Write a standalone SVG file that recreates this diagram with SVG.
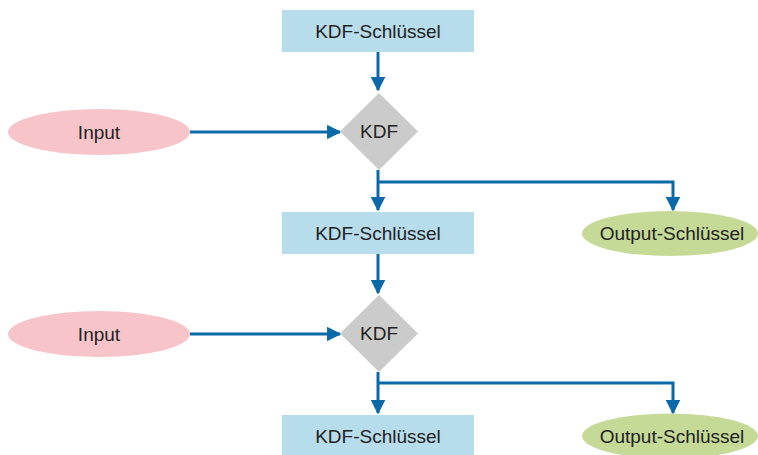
<svg xmlns="http://www.w3.org/2000/svg" width="758" height="455" viewBox="0 0 758 455">
<defs>
<style>
.key{fill:#b7dcec}
.inp{fill:#f7c5c9}
.out{fill:#c5da96}
.kdf{fill:#cbcbcb}
.t{font-family:"Liberation Sans",Arial,sans-serif;font-size:19px;fill:#222;text-anchor:middle;dominant-baseline:central}
.c{fill:none;stroke:#0a69a8;stroke-width:3;marker-end:url(#ah)}
</style>
<marker id="ah" viewBox="0 0 10 10" refX="9" refY="5" markerWidth="4.8" markerHeight="4.8" orient="auto" markerUnits="strokeWidth">
<path d="M0,0 L10,5 L0,10 z" fill="#0a69a8"/>
</marker>
</defs>
<rect width="758" height="455" fill="#fff"/>
<g id="connectors">
<path class="c" d="M378,52 V90"/>
<path class="c" d="M190,132 H340"/>
<path class="c" d="M378,170 V210"/>
<path class="c" d="M378,182 H673 V210"/>
<path class="c" d="M378,254 V293"/>
<path class="c" d="M190,334 H340"/>
<path class="c" d="M378,372 V413"/>
<path class="c" d="M378,383 H673 V413"/>
</g>
<g id="key1"><rect class="key" x="282" y="10" width="192" height="42"/><text class="t" x="378" y="31">KDF-Schlüssel</text></g>
<g id="input1"><ellipse class="inp" cx="99" cy="132" rx="91" ry="23"/><text class="t" x="99" y="132">Input</text></g>
<g id="kdf1"><polygon class="kdf" points="379,93 418,131.5 379,170 340,131.5"/><text class="t" x="379" y="131.5">KDF</text></g>
<g id="key2"><rect class="key" x="282" y="212" width="192" height="42"/><text class="t" x="378" y="233">KDF-Schlüssel</text></g>
<g id="output1"><ellipse class="out" cx="670" cy="233.5" rx="88" ry="22.5"/><text class="t" x="672" y="233.5">Output-Schlüssel</text></g>
<g id="input2"><ellipse class="inp" cx="99" cy="334" rx="91" ry="23"/><text class="t" x="99" y="334">Input</text></g>
<g id="kdf2"><polygon class="kdf" points="379,295 418,333.5 379,372 340,333.5"/><text class="t" x="379" y="333.5">KDF</text></g>
<g id="key3"><rect class="key" x="282" y="415" width="192" height="42"/><text class="t" x="378" y="436">KDF-Schlüssel</text></g>
<g id="output2"><ellipse class="out" cx="670" cy="436" rx="88" ry="22.5"/><text class="t" x="672" y="436">Output-Schlüssel</text></g>
</svg>
